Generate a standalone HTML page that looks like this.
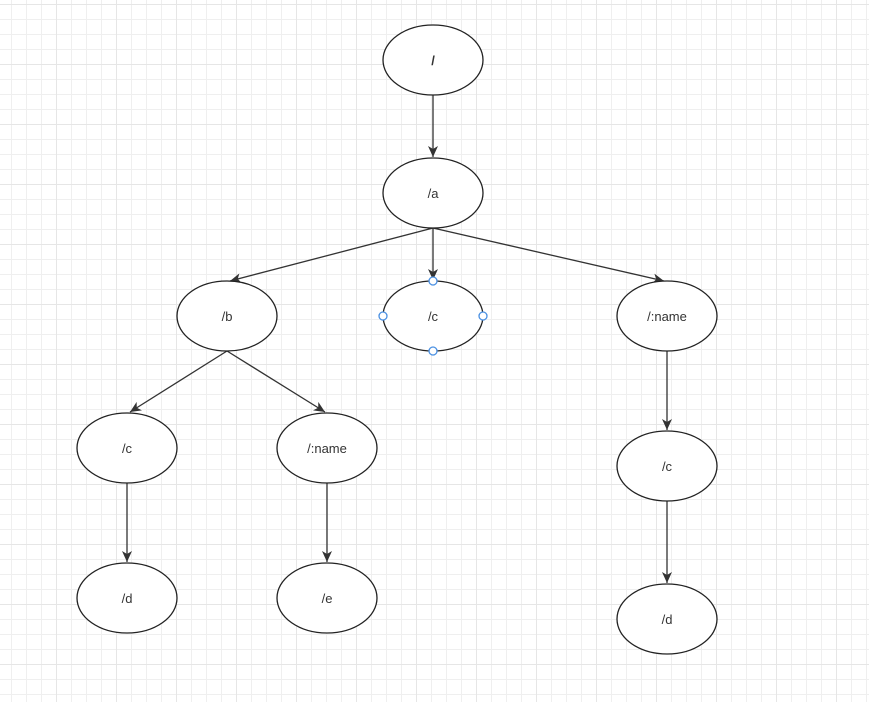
<!DOCTYPE html><html><head><style>body{margin:0;background:#fff}svg{display:block}</style></head><body>
<svg width="869" height="702" xmlns="http://www.w3.org/2000/svg">
<defs>
<pattern id="g" x="11" y="4" width="15" height="15" patternUnits="userSpaceOnUse"><path d="M0 0H15M0 0V15" stroke="#efefef" stroke-width="2" fill="none"/></pattern>
<pattern id="G" x="-4" y="4" width="60" height="60" patternUnits="userSpaceOnUse"><path d="M0 0H60M0 0V60" stroke="#e6e6e6" stroke-width="2" fill="none"/></pattern>
<marker id="a" markerWidth="12" markerHeight="12" refX="11" refY="5" orient="auto" markerUnits="userSpaceOnUse"><path d="M0 0L11 5L0 10L3 5z" fill="#333"/></marker>
</defs>
<rect width="869" height="702" fill="url(#g)"/>
<rect width="869" height="702" fill="url(#G)"/>
<g stroke="#333" stroke-width="1.3" fill="none" marker-end="url(#a)">
<line x1="433" y1="95" x2="433" y2="157"/>
<line x1="433" y1="228" x2="230" y2="281"/>
<line x1="433" y1="228" x2="433" y2="280"/>
<line x1="433" y1="228" x2="664" y2="281"/>
<line x1="227" y1="351" x2="130" y2="412"/>
<line x1="227" y1="351" x2="325" y2="412"/>
<line x1="127" y1="483" x2="127" y2="562"/>
<line x1="327" y1="483" x2="327" y2="562"/>
<line x1="667" y1="351" x2="667" y2="430"/>
<line x1="667" y1="501" x2="667" y2="583"/>
</g>
<g fill="#fff" stroke="#222" stroke-width="1.3">
<ellipse cx="433" cy="60" rx="50" ry="35"/>
<ellipse cx="433" cy="193" rx="50" ry="35"/>
<ellipse cx="227" cy="316" rx="50" ry="35"/>
<ellipse cx="433" cy="316" rx="50" ry="35"/>
<ellipse cx="667" cy="316" rx="50" ry="35"/>
<ellipse cx="127" cy="448" rx="50" ry="35"/>
<ellipse cx="327" cy="448" rx="50" ry="35"/>
<ellipse cx="127" cy="598" rx="50" ry="35"/>
<ellipse cx="327" cy="598" rx="50" ry="35"/>
<ellipse cx="667" cy="466" rx="50" ry="35"/>
<ellipse cx="667" cy="619" rx="50" ry="35"/>
</g>
<g fill="#fff" stroke="#4a90e2" stroke-width="1.3">
<circle cx="433" cy="281" r="4"/><circle cx="433" cy="351" r="4"/><circle cx="383" cy="316" r="4"/><circle cx="483" cy="316" r="4"/>
</g>
<g font-family="Liberation Sans, sans-serif" font-size="13" fill="#333" text-anchor="middle">
<text x="433" y="65" font-weight="bold">/</text>
<text x="433" y="198">/a</text>
<text x="227" y="321">/b</text>
<text x="433" y="321">/c</text>
<text x="667" y="321">/:name</text>
<text x="127" y="453">/c</text>
<text x="327" y="453">/:name</text>
<text x="127" y="603">/d</text>
<text x="327" y="603">/e</text>
<text x="667" y="471">/c</text>
<text x="667" y="624">/d</text>
</g>
</svg></body></html>
